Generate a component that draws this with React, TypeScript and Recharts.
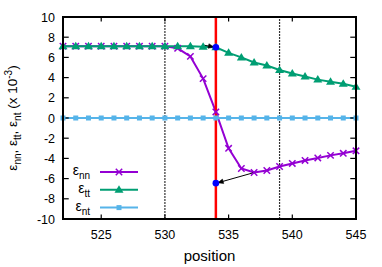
import * as Recharts from "recharts";
import {
  ComposedChart,
  Line,
  XAxis,
  YAxis,
  ReferenceLine,
  ReferenceDot,
} from "recharts";

const positions = [
  522, 523, 524, 525, 526, 527, 528, 529, 530, 531, 532, 533, 534, 535, 536,
  537, 538, 539, 540, 541, 542, 543, 544, 545,
];
const ennValues = [
  7.1, 7.1, 7.1, 7.1, 7.1, 7.1, 7.1, 7.1, 7.1, 6.9, 6.1, 3.9, 0.6, -3.0, -5.0,
  -5.4, -5.2, -4.8, -4.5, -4.2, -3.95, -3.7, -3.5, -3.25,
];
const ettValues = [
  7.1, 7.1, 7.1, 7.1, 7.1, 7.1, 7.1, 7.1, 7.1, 7.1, 7.1, 7.05, 7.0, 6.45, 6.0,
  5.5, 5.2, 4.75, 4.4, 4.1, 3.8, 3.6, 3.4, 3.1,
];
const entValues = [
  0, 0, 0, 0, 0, 0, 0, 0, 0, 0, 0, 0, 0, 0, 0, 0, 0, 0, 0, 0, 0, 0, 0, 0,
];
const xDomain = [522, 545];
const yDomain = [-10, 10];
const xTicks = [525, 530, 535, 540, 545];
const yTicks = [-10, -8, -6, -4, -2, 0, 2, 4, 6, 8, 10];
const guideLines = [530, 539];
const cutPosition = 534;
const markedX = [534, 534];
const markedY = [7.0, -6.45];
// arrows: [fromX, fromY, toX, toY]
const arrows = [
  [533.1, 7.2, 533.85, 7.03],
  [537.0, -5.4, 534.15, -6.42],
];
// inward tick length, in data units
const X_TICK_LEN = 0.45;
const Y_TICK_LEN = 0.45;

const PURPLE = "#9400d3";
const GREEN = "#009e73";
const BLUE = "#56b4e9";
const FONT = "'Liberation Sans', Arial, sans-serif";

const rows = positions.map((p, i) => ({
  x: p,
  enn: ennValues[i],
  ett: ettValues[i],
  ent: entValues[i],
}));

const usePlotArea: any = (Recharts as any).usePlotArea;

// black box around the plot area (gnuplot border)
function Frame() {
  const pa = usePlotArea ? usePlotArea() : null;
  if (!pa) return null;
  return (
    <rect x={pa.x} y={pa.y} width={pa.width} height={pa.height} fill="none" stroke="#000000" strokeWidth={2} />
  );
}

function Cross({ cx, cy }: { cx: number; cy: number }) {
  const s = 3.2;
  return (
    <g stroke={PURPLE} strokeWidth={1.5}>
      <line x1={cx - s} y1={cy - s} x2={cx + s} y2={cy + s} />
      <line x1={cx - s} y1={cy + s} x2={cx + s} y2={cy - s} />
    </g>
  );
}
function Tri({ cx, cy }: { cx: number; cy: number }) {
  return (
    <polygon
      points={`${cx},${cy - 4.5} ${cx - 4.5},${cy + 3} ${cx + 4.5},${cy + 3}`}
      fill={GREEN}
    />
  );
}
function Square({ cx, cy }: { cx: number; cy: number }) {
  return <rect x={cx - 2.5} y={cy - 2.5} width={5} height={5} fill={BLUE} />;
}

function BottomTick(props: any) {
  const { x, y, payload } = props;
  return (
    <text x={x} y={y + 20} textAnchor="middle" fontSize={12.5} fontFamily={FONT} fill="#000">
      {payload.value}
    </text>
  );
}
function LeftTick(props: any) {
  const { x, y, payload } = props;
  return (
    <text x={x - 8} y={y + 4.5} textAnchor="end" fontSize={12.5} fontFamily={FONT} fill="#000">
      {payload.value}
    </text>
  );
}

function YTitle(props: any) {
  const vb = props.viewBox;
  const cy = vb.y + vb.height / 2;
  const cx = 17;
  return (
    <text
      x={cx}
      y={cy}
      transform={`rotate(-90, ${cx}, ${cy})`}
      textAnchor="middle"
      fontSize={13.5}
      fontFamily={FONT}
      fill="#000"
    >
      <tspan>ε</tspan>
      <tspan dy={4} fontSize={10}>nn</tspan>
      <tspan dy={-4}>, ε</tspan>
      <tspan dy={4} fontSize={10}>tt</tspan>
      <tspan dy={-4}>, ε</tspan>
      <tspan dy={4} fontSize={10}>nt</tspan>
      <tspan dy={-4}> (x 10</tspan>
      <tspan dy={-5} fontSize={10}>-3</tspan>
      <tspan dy={5}>)</tspan>
    </text>
  );
}

function XTitle(props: any) {
  const vb = props.viewBox;
  return (
    <text x={vb.x + vb.width / 2} y={261} textAnchor="middle" fontSize={15} fontFamily={FONT} fill="#000">
      position
    </text>
  );
}

function Arrow(props: any) {
  const { x1, y1, x2, y2 } = props;
  if ([x1, y1, x2, y2].some((v) => v == null || isNaN(v))) return null;
  const a = Math.atan2(y2 - y1, x2 - x1);
  const L = 6;
  const w = 0.4;
  const p1 = `${x2 - L * Math.cos(a - w)},${y2 - L * Math.sin(a - w)}`;
  const p2 = `${x2 - L * Math.cos(a + w)},${y2 - L * Math.sin(a + w)}`;
  return (
    <g>
      <line x1={x1} y1={y1} x2={x2} y2={y2} stroke="#000" strokeWidth={1} />
      <polygon points={`${p1} ${x2},${y2} ${p2}`} fill="#000" stroke="#000" strokeWidth={0.5} />
    </g>
  );
}

const legendItems = [
  { sub: "nn", color: PURPLE, Mark: Cross },
  { sub: "tt", color: GREEN, Mark: Tri },
  { sub: "nt", color: BLUE, Mark: Square },
];

function LegendBox() {
  return (
    <g transform="translate(62,162)">
      {legendItems.map((it, i) => {
        const y = 10 + i * 17.8;
        return (
          <g key={it.sub}>
            <text x={28} y={y + 3} textAnchor="end" fontSize={14} fontFamily={FONT} fill="#000">
              <tspan>ε</tspan>
              <tspan dy={4} fontSize={10}>
                {it.sub}
              </tspan>
            </text>
            <line x1={38} y1={y} x2={76} y2={y} stroke={it.color} strokeWidth={2} />
            <it.Mark cx={57} cy={y} />
          </g>
        );
      })}
    </g>
  );
}

const tickSeg = (p1: any, p2: any, key: string) => (
  <ReferenceLine key={key} segment={[p1, p2]} stroke="#000000" strokeWidth={1.2} />
);

export default function App() {
  return (
    <div style={{ position: "absolute", left: 0, top: 0, width: 382, height: 267 }}>
      <ComposedChart
        width={382}
        height={267}
        data={rows}
        margin={{ top: 17, right: 26, bottom: 0, left: 0 }}
      >
        <XAxis
          dataKey="x"
          type="number"
          domain={xDomain}
          ticks={xTicks}
          interval={0}
          height={48}
          tickSize={0}
          tickMargin={0}
          tickLine={false}
          tick={<BottomTick />}
          axisLine={false}
          label={{ content: <XTitle /> }}
        />
        <YAxis
          type="number"
          domain={yDomain}
          ticks={yTicks}
          interval={0}
          width={63}
          tickSize={0}
          tickMargin={0}
          tickLine={false}
          tick={<LeftTick />}
          axisLine={false}
          label={{ content: <YTitle /> }}
        />
        <Line
          dataKey="enn"
          type="linear"
          stroke={PURPLE}
          strokeWidth={2}
          dot={(p: any) => <Cross key={`c${p.index}`} cx={p.cx} cy={p.cy} />}
          activeDot={false}
          isAnimationActive={false}
        />
        <Line
          dataKey="ett"
          type="linear"
          stroke={GREEN}
          strokeWidth={2}
          dot={(p: any) => <Tri key={`t${p.index}`} cx={p.cx} cy={p.cy} />}
          activeDot={false}
          isAnimationActive={false}
        />
        <Line
          dataKey="ent"
          type="linear"
          stroke={BLUE}
          strokeWidth={2}
          dot={(p: any) => <Square key={`s${p.index}`} cx={p.cx} cy={p.cy} />}
          activeDot={false}
          isAnimationActive={false}
        />
        {guideLines.map((g) => (
          <ReferenceLine key={g} x={g} stroke="#333" strokeWidth={1.2} strokeDasharray="2 1" />
        ))}
        <ReferenceLine x={cutPosition} stroke="#ff0000" strokeWidth={2.5} />
        {arrows.map((a, i) => (
          <ReferenceLine
            key={`a${i}`}
            segment={[
              { x: a[0], y: a[1] },
              { x: a[2], y: a[3] },
            ]}
            shape={(p: any) => <Arrow {...p} />}
          />
        ))}
        {markedX.map((x, i) => (
          <ReferenceDot key={`m${i}`} x={x} y={markedY[i]} r={3.3} fill="#0000ff" stroke="none" />
        ))}
        {xTicks.map((t) =>
          tickSeg({ x: t, y: yDomain[0] }, { x: t, y: yDomain[0] + Y_TICK_LEN }, `bt${t}`)
        )}
        {xTicks.map((t) =>
          tickSeg({ x: t, y: yDomain[1] }, { x: t, y: yDomain[1] - Y_TICK_LEN }, `tt${t}`)
        )}
        {yTicks.map((t) =>
          tickSeg({ x: xDomain[0], y: t }, { x: xDomain[0] + X_TICK_LEN, y: t }, `lt${t}`)
        )}
        {yTicks.map((t) =>
          tickSeg({ x: xDomain[1], y: t }, { x: xDomain[1] - X_TICK_LEN, y: t }, `rt${t}`)
        )}
        <Frame />
        <LegendBox />
      </ComposedChart>
      {/* border overlay matching the plot area (63..356 x 17..219) */}
      <div
        style={{
          position: "absolute",
          left: 62,
          top: 16,
          width: 295,
          height: 204,
          border: "2px solid #000000",
          boxSizing: "border-box",
          pointerEvents: "none",
        }}
      />
    </div>
  );
}
